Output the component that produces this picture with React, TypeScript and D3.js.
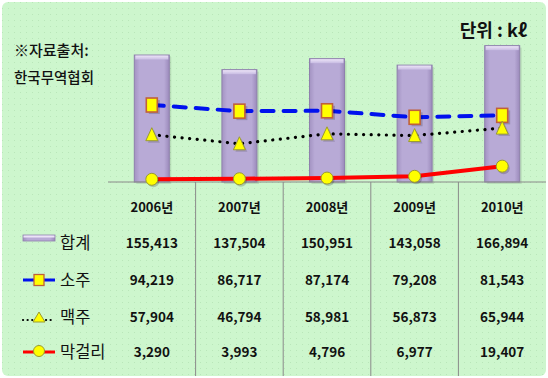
import React from "react";
import * as d3 from "d3";

const years = ["2006년", "2007년", "2008년", "2009년", "2010년"];
const total = [155413, 137504, 150951, 143058, 166894];
const soju = [94219, 86717, 87174, 79208, 81543];
const beer = [57904, 46794, 58981, 56873, 65944];
const makgeolli = [3290, 3993, 4796, 6977, 19407];
const seriesNames = ["합계", "소주", "맥주", "막걸리"];

const W = 548;
const H = 378;
const FONT = "'Noto Sans CJK KR', 'Noto Sans', sans-serif";

export default function App() {
  const x = d3.scaleBand<string>().domain(years).range([108, 546]);
  const y = d3.scaleLinear().domain([0, 200000]).range([182, 18.6]);
  const cx = (i: number) => (x(years[i]) as number) + x.bandwidth() / 2;
  const barW = 35;
  const line = d3
    .line<number>()
    .x((_, i) => cx(i))
    .y((v) => y(v));
  const fmt = d3.format(",");
  const rows = [total, soju, beer, makgeolli];
  const rowY = [243, 280, 317, 352];
  const headerY = 207;

  const square = (px: number, py: number, key: string) => (
    <g key={key}>
      <rect x={px - 5} y={py - 7} width={11} height={14} fill="#000" opacity={0.18} transform="translate(2,2)" />
      <rect x={px - 5.5} y={py - 7} width={11} height={14} fill="#ffff00" stroke="#c0603a" strokeWidth={1.6} />
    </g>
  );
  const tri = (px: number, py: number, key: string) => (
    <g key={key}>
      <path d={`M${px + 2},${py - 5} L${px + 8},${py + 8} L${px - 4},${py + 8} Z`} fill="#000" opacity={0.15} />
      <path d={`M${px},${py - 7} L${px + 6},${py + 6} L${px - 6},${py + 6} Z`} fill="#ffff00" stroke="#9a9a30" strokeWidth={1} />
    </g>
  );
  const circ = (px: number, py: number, key: string) => (
    <g key={key}>
      <circle cx={px + 1.5} cy={py + 2} r={6} fill="#000" opacity={0.18} />
      <circle cx={px} cy={py} r={6} fill="#ffff00" stroke="#9a9a30" strokeWidth={1} />
    </g>
  );

  return (
    <svg
      width={W}
      height={H}
      style={{ position: "absolute", left: 0, top: 0, background: "#fff" }}
      fontFamily={FONT}
    >
      <defs>
        <pattern id="dots" width="6" height="6" patternUnits="userSpaceOnUse">
          <rect width="6" height="6" fill="#cdf6cd" />
          <rect x="2" y="2" width="1" height="1" fill="#b9e6b9" />
        </pattern>
        <linearGradient id="barG" x1="0" x2="1" y1="0" y2="0">
          <stop offset="0" stopColor="#a393c2" />
          <stop offset="0.15" stopColor="#b8aad6" />
          <stop offset="0.85" stopColor="#b8aad6" />
          <stop offset="1" stopColor="#9b8abb" />
        </linearGradient>
        <linearGradient id="barTop" x1="0" x2="0" y1="0" y2="1">
          <stop offset="0" stopColor="#ece4f7" />
          <stop offset="1" stopColor="#c8bce3" />
        </linearGradient>
      </defs>
      <rect x={2} y={2} width={W - 4} height={H - 4} rx={6} fill="url(#dots)" />

      {/* Source text */}
      <text x={14} y={56} fontSize={15} fontWeight={500} fill="#111">※자료출처:</text>
      <text x={14} y={83} fontSize={14.5} fontWeight={500} fill="#111">한국무역협회</text>
      <text x={527} y={37} fontSize={18} fontWeight={700} textAnchor="end" fill="#111">단위 : kℓ</text>

      {/* bars */}
      {total.map((v, i) => {
        const bx = cx(i) - barW / 2;
        const by = y(v);
        const h = y(0) - by;
        return (
          <g key={"b" + i}>
            <rect x={bx + 2} y={by + 2} width={barW} height={h} fill="#000" opacity={0.1} />
            <rect x={bx} y={by} width={barW} height={h} fill="url(#barG)" stroke="#8f80ad" strokeWidth={1} />
            <rect x={bx + 1} y={by + 0.5} width={barW - 2} height={4} fill="url(#barTop)" />
          </g>
        );
      })}

      {/* axis */}
      <line x1={108} x2={546} y1={y(0)} y2={y(0)} stroke="#8a8a8a" strokeWidth={1} />
      {years.slice(1).map((yr) => (
        <line key={"s" + yr} x1={x(yr) as number} x2={x(yr) as number} y1={y(0)} y2={376} stroke="#8a8a8a" strokeWidth={1} />
      ))}

      {/* lines */}
      <path d={line(makgeolli) || ""} fill="none" stroke="#ff0000" strokeWidth={4} strokeLinejoin="round" />
      <path d={line(beer) || ""} fill="none" stroke="#000" strokeWidth={3.2} strokeDasharray="0.1 7.5" strokeLinecap="round" />
      <path d={line(soju) || ""} fill="none" stroke="#0011ee" strokeWidth={4} strokeDasharray="12 10" strokeLinecap="round" />

      {soju.map((v, i) => square(cx(i), y(v), "sq" + i))}
      {beer.map((v, i) => tri(cx(i), y(v), "tr" + i))}
      {makgeolli.map((v, i) => circ(cx(i), y(v), "ci" + i))}

      {/* table header */}
      {years.map((yr, i) => (
        <text key={"h" + yr} x={cx(i)} y={headerY + 5} fontSize={13} fontWeight={700} textAnchor="middle" fill="#111">
          {yr}
        </text>
      ))}

      {/* table values */}
      {rows.map((r, ri) =>
        r.map((v, i) => (
          <text key={`v${ri}-${i}`} x={cx(i)} y={rowY[ri] + 5} fontSize={13.5} fontWeight={700} textAnchor="middle" fill="#111">
            {fmt(v)}
          </text>
        ))
      )}

      {/* legend keys */}
      <g>
        <rect x={23} y={rowY[0] - 8} width={32} height={6} fill="url(#barG)" stroke="#8f80ad" strokeWidth={0.8} />
        <rect x={23.5} y={rowY[0] - 7.5} width={31} height={2} fill="#ece4f7" />
        <line x1={23} x2={55} y1={rowY[1]} y2={rowY[1]} stroke="#0011ee" strokeWidth={3} />
        <rect x={34} y={rowY[1] - 5.5} width={10} height={11} fill="#ffff00" stroke="#c0603a" strokeWidth={1.3} />
        <line x1={23} x2={55} y1={rowY[2] + 3} y2={rowY[2] + 3} stroke="#000" strokeWidth={2.2} strokeDasharray="0.1 4.5" strokeLinecap="round" />
        <path d={`M39,${rowY[2] - 5} L45,${rowY[2] + 5} L33,${rowY[2] + 5} Z`} fill="#ffff00" stroke="#9a9a30" strokeWidth={1} />
        <line x1={23} x2={55} y1={rowY[3]} y2={rowY[3]} stroke="#ff0000" strokeWidth={3} />
        <circle cx={39} cy={rowY[3] - 1} r={5.5} fill="#ffff00" stroke="#9a9a30" strokeWidth={1} />
      </g>
      {seriesNames.map((n, i) => (
        <text key={"n" + n} x={60} y={rowY[i] + 6} fontSize={16.5} fill="#111">
          {n}
        </text>
      ))}
    </svg>
  );
}
